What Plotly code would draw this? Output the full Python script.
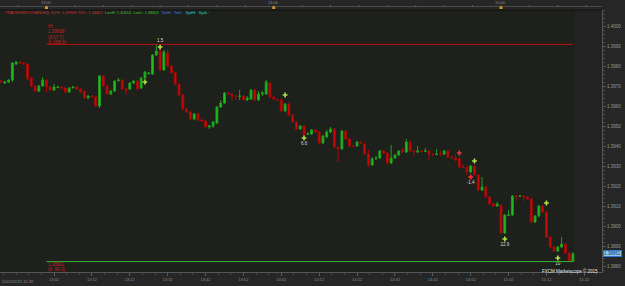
import plotly.graph_objects as go
import pandas as pd

# ---------------- data (EUR/USD-style 1-minute candles, 20/02/2015) ----------------
times = pd.date_range("2015-02-20 12:48", periods=152, freq="min")

opens = [
    1.39725, 1.39715, 1.3972, 1.3973, 1.3981, 1.3982, 1.39815, 1.3981, 1.3974, 1.3970,
    1.39675, 1.3970, 1.3973, 1.39695, 1.3968, 1.39693, 1.39695, 1.3969, 1.3967, 1.3969,
    1.39695, 1.39685, 1.39675, 1.3964, 1.3965, 1.39645, 1.3960, 1.3975, 1.3970, 1.3966,
    1.39675, 1.39727, 1.3973, 1.39685, 1.39685, 1.39715, 1.39725, 1.3969, 1.3974, 1.3976,
    1.3976, 1.39855, 1.39875, 1.3978, 1.39865, 1.3980, 1.39765, 1.3971, 1.39655, 1.39585,
    1.3957, 1.39535, 1.3956, 1.3953, 1.39525, 1.39495, 1.3950, 1.39515, 1.39595, 1.39615,
    1.39665, 1.3966, 1.3965, 1.39648, 1.3965, 1.3963, 1.39635, 1.3968, 1.3963, 1.3966,
    1.3966, 1.39715, 1.39645, 1.39633, 1.3963, 1.39575, 1.3961, 1.39555, 1.3952, 1.39485,
    1.3950, 1.39458, 1.3946, 1.3948, 1.3947, 1.39415, 1.39445, 1.3947, 1.39485, 1.39395,
    1.39385, 1.39475, 1.39435, 1.3940, 1.3940, 1.3942, 1.3941, 1.3936, 1.39305, 1.39338,
    1.3934, 1.39375, 1.39365, 1.39315, 1.3934, 1.39355, 1.3938, 1.3937, 1.3942, 1.39375,
    1.3937, 1.39375, 1.39372, 1.39375, 1.3936, 1.39358, 1.3936, 1.3936, 1.39375, 1.39345,
    1.3934, 1.39335, 1.39295, 1.39295, 1.3927, 1.3930, 1.39255, 1.3918, 1.39195, 1.39145,
    1.3911, 1.3910, 1.39105, 1.38965, 1.39053, 1.39055, 1.3915, 1.39148, 1.3915, 1.39145,
    1.39135, 1.3902, 1.3905, 1.3910, 1.3907, 1.38945, 1.38895, 1.38875, 1.38895, 1.3891,
    1.38865, 1.38825,
]
highs = [
    1.3973, 1.39725, 1.39735, 1.3982, 1.39825, 1.39825, 1.3982, 1.39815, 1.39745, 1.39705,
    1.39705, 1.39745, 1.39735, 1.3970, 1.3971, 1.3970, 1.3970, 1.39695, 1.39695, 1.3970,
    1.3970, 1.3969, 1.3968, 1.39655, 1.39655, 1.3965, 1.39755, 1.39755, 1.39705, 1.3968,
    1.3973, 1.3974, 1.39735, 1.3969, 1.3972, 1.3973, 1.3973, 1.39745, 1.39775, 1.3977,
    1.3986, 1.39908, 1.39908, 1.3988, 1.39885, 1.39805, 1.3977, 1.39715, 1.3966, 1.3959,
    1.39575, 1.39565, 1.39565, 1.3954, 1.3953, 1.39505, 1.39525, 1.3960, 1.3963, 1.3967,
    1.3967, 1.39665, 1.39655, 1.3968, 1.39655, 1.3965, 1.39685, 1.39685, 1.39675, 1.39675,
    1.3973, 1.3972, 1.3965, 1.39635, 1.39635, 1.39615, 1.39615, 1.3956, 1.39525, 1.39505,
    1.39505, 1.3947, 1.39485, 1.39485, 1.39475, 1.39455, 1.3948, 1.39495, 1.3949, 1.3940,
    1.3948, 1.3948, 1.3944, 1.39405, 1.39425, 1.39425, 1.39415, 1.3938, 1.39345, 1.3935,
    1.3938, 1.3938, 1.3937, 1.39405, 1.3936, 1.3938, 1.3939, 1.39435, 1.39425, 1.3938,
    1.3940, 1.3938, 1.3939, 1.3938, 1.39365, 1.39385, 1.39375, 1.3938, 1.3938, 1.3935,
    1.3936, 1.39345, 1.3931, 1.3930, 1.39305, 1.39305, 1.3926, 1.39245, 1.3920, 1.3915,
    1.39115, 1.3912, 1.3911, 1.3906, 1.3908, 1.39155, 1.39155, 1.39155, 1.39155, 1.3915,
    1.3914, 1.39055, 1.39105, 1.39105, 1.39075, 1.3895, 1.3890, 1.3890, 1.38945, 1.38915,
    1.3887, 1.3887,
]
lows = [
    1.39715, 1.3971, 1.39715, 1.3972, 1.39805, 1.3981, 1.39805, 1.3973, 1.39695, 1.3967,
    1.3967, 1.39695, 1.3967, 1.39675, 1.39675, 1.3969, 1.39685, 1.39665, 1.39665, 1.3969,
    1.3968, 1.39665, 1.39635, 1.39635, 1.39643, 1.39595, 1.3959, 1.39695, 1.39655, 1.39655,
    1.3967, 1.39722, 1.3968, 1.39655, 1.3968, 1.3971, 1.3968, 1.39685, 1.39735, 1.3976,
    1.39755, 1.3985, 1.39775, 1.39775, 1.39795, 1.3976, 1.39705, 1.3965, 1.3958, 1.39565,
    1.3953, 1.3953, 1.39525, 1.3952, 1.3949, 1.39485, 1.3949, 1.3951, 1.3959, 1.3961,
    1.39655, 1.3963, 1.3963, 1.3963, 1.39625, 1.39625, 1.3963, 1.39625, 1.39625, 1.3965,
    1.39655, 1.3964, 1.3963, 1.39625, 1.3957, 1.3957, 1.3955, 1.39515, 1.3948, 1.3948,
    1.3945, 1.39455, 1.39455, 1.39465, 1.3941, 1.3941, 1.3944, 1.39465, 1.3939, 1.3932,
    1.3938, 1.3943, 1.39395, 1.39395, 1.39395, 1.3941, 1.39355, 1.39295, 1.3930, 1.3933,
    1.39335, 1.3936, 1.3931, 1.3931, 1.39335, 1.3935, 1.39365, 1.39365, 1.3937, 1.3935,
    1.39365, 1.3937, 1.3937, 1.3933, 1.3935, 1.39355, 1.3935, 1.39355, 1.3934, 1.3933,
    1.39325, 1.3929, 1.3929, 1.39255, 1.39265, 1.3925, 1.39175, 1.39175, 1.3914, 1.39105,
    1.39095, 1.39095, 1.3896, 1.3896, 1.3905, 1.3905, 1.39125, 1.39145, 1.39125, 1.3913,
    1.39015, 1.39015, 1.39045, 1.39065, 1.3894, 1.3889, 1.3887, 1.3887, 1.3889, 1.3886,
    1.38822, 1.38822,
]
closes = [
    1.3972, 1.3972, 1.3973, 1.39815, 1.3982, 1.39815, 1.3981, 1.39735, 1.3970, 1.39675,
    1.3970, 1.3973, 1.39695, 1.3968, 1.39695, 1.39695, 1.3969, 1.3967, 1.3969, 1.39695,
    1.39685, 1.3967, 1.3964, 1.3965, 1.39645, 1.3960, 1.3975, 1.3970, 1.3966, 1.39675,
    1.39725, 1.3973, 1.39685, 1.3968, 1.39715, 1.39725, 1.39685, 1.3974, 1.3977, 1.39765,
    1.39855, 1.39875, 1.3978, 1.3987, 1.3980, 1.39765, 1.3971, 1.39655, 1.39585, 1.3957,
    1.39535, 1.3956, 1.3953, 1.39525, 1.39495, 1.3950, 1.3952, 1.39595, 1.39615, 1.39665,
    1.3966, 1.3965, 1.39648, 1.3965, 1.3963, 1.3964, 1.3968, 1.3963, 1.3966, 1.39665,
    1.3972, 1.39645, 1.39635, 1.3963, 1.39575, 1.3961, 1.39555, 1.3952, 1.39485, 1.3950,
    1.39455, 1.3946, 1.3948, 1.3947, 1.39415, 1.3945, 1.3947, 1.39485, 1.39395, 1.39385,
    1.39475, 1.39435, 1.3940, 1.39398, 1.3942, 1.39415, 1.3936, 1.39305, 1.39335, 1.3934,
    1.39375, 1.39365, 1.39315, 1.3934, 1.39355, 1.39375, 1.3937, 1.3942, 1.39375, 1.39372,
    1.39375, 1.39372, 1.39375, 1.3936, 1.39358, 1.3936, 1.39358, 1.39375, 1.39345, 1.39343,
    1.3933, 1.39295, 1.39293, 1.3927, 1.3930, 1.39255, 1.3918, 1.39195, 1.39145, 1.3911,
    1.3910, 1.3911, 1.38965, 1.39055, 1.39055, 1.3915, 1.39148, 1.3915, 1.39145, 1.39135,
    1.3902, 1.3905, 1.3910, 1.3907, 1.38945, 1.38895, 1.38875, 1.38895, 1.3891, 1.38865,
    1.38825, 1.38861,
]

day_high = 1.39908
day_low = 1.38822
last_price = 1.38861

# signal markers: candle index, price, colour kind, label
sig_idx = [38, 42, 75, 80, 121, 125, 124, 144, 133, 147]
sig_price = [1.3972, 1.39895, 1.39655, 1.3944, 1.39365, 1.39325, 1.39245, 1.39115, 1.38935, 1.3884]
sig_kind = ["up", "up", "up", "up", "dn", "up", "dn", "up", "up", "up"]
sig_label = ["", "1.5", "", "6.6", "", "", "-1.4", "", "22.9", "10"]
sig_labelpos = ["bottom center", "top center", "bottom center", "bottom center", "bottom center",
                "bottom center", "bottom center", "bottom center", "bottom center", "bottom center"]

y_ticks = [1.3880, 1.3890, 1.3900, 1.3910, 1.3920, 1.3930, 1.3940, 1.3950, 1.3960, 1.3970,
           1.3980, 1.3990, 1.4000]
x_tick_times = pd.date_range("2015-02-20 13:02", "2015-02-20 15:22", freq="10min")
x_tick_text = [t.strftime("%H:%M") for t in x_tick_times]
hour_marks = pd.to_datetime(["2015-02-20 13:00", "2015-02-20 14:00", "2015-02-20 15:00"])
hour_text = ["13:00", "14:00", "15:00"]

# ---------------- layout geometry ----------------
W, H = 625, 286
ML, MR, MT, MB = 0, 23, 10, 14
PW, PH = W - ML - MR, H - MT - MB

def py(px):
    return (H - MB - px) / PH

def pxx(px):
    return (px - ML) / PW

t0 = times[0]
x_start = t0 - pd.Timedelta(seconds=16)
x_end = t0 + pd.Timedelta(seconds=9520)

FONT = "Liberation Sans"
GREEN_SIG = "#aede48"
RED_SIG = "#f23434"

fig = go.Figure()

fig.add_trace(go.Candlestick(
    x=times, open=opens, high=highs, low=lows, close=closes,
    increasing=dict(line=dict(color="#1c9f1c", width=1), fillcolor="#22c422"),
    decreasing=dict(line=dict(color="#a60909", width=1), fillcolor="#cc0b0b"),
    whiskerwidth=0, showlegend=False, hoverinfo="skip",
))

fig.add_trace(go.Scatter(
    x=[times[i] for i in sig_idx], y=sig_price,
    mode="markers+text",
    marker=dict(symbol="cross", size=4,
                color=[GREEN_SIG if k == "up" else RED_SIG for k in sig_kind],
                line=dict(width=0)),
    text=sig_label, textposition=sig_labelpos,
    textfont=dict(family=FONT, size=4.5, color="#d8d8d8"),
    showlegend=False, hoverinfo="skip",
))

shapes = []
# right empty region
shapes.append(dict(type="rect", xref="x", yref="paper",
                   x0=times[-1] + pd.Timedelta(seconds=30), x1=x_end, y0=0, y1=1,
                   fillcolor="#232323", line=dict(width=0), layer="below"))
# high / low lines
shapes.append(dict(type="line", xref="x", yref="y", x0=times[12], x1=times[-1],
                   y0=day_high, y1=day_high, line=dict(color="#b81010", width=1)))
shapes.append(dict(type="line", xref="x", yref="y", x0=times[12], x1=times[-1],
                   y0=day_low, y1=day_low, line=dict(color="#32b432", width=1)))
# plot top border
shapes.append(dict(type="line", xref="paper", yref="paper", x0=0, x1=1, y0=1, y1=1,
                   line=dict(color="#111111", width=1)))
# header line and ticks
shapes.append(dict(type="line", xref="paper", yref="paper", x0=0, x1=1,
                   y0=py(6.5), y1=py(6.5), line=dict(color="#4a4a4a", width=1)))
for t in pd.date_range("2015-02-20 12:45", "2015-02-20 15:30", freq="450s"):
    if x_start <= t <= x_end:
        shapes.append(dict(type="line", xref="x", yref="paper", x0=t, x1=t,
                           y0=py(5), y1=py(7), line=dict(color="#5a5a5a", width=1)))
for t in hour_marks:
    shapes.append(dict(type="rect", xref="x", yref="paper",
                       x0=t - pd.Timedelta(seconds=24), x1=t + pd.Timedelta(seconds=24),
                       y0=py(9), y1=py(6.5), fillcolor="#d89a1c", line=dict(width=0)))

annotations = []
for t, s in zip(hour_marks, hour_text):
    annotations.append(dict(x=t, y=py(3), xref="x", yref="paper", text=s, showarrow=False,
                            font=dict(family=FONT, size=4, color="#8c8c8c"),
                            xanchor="center", yanchor="middle"))

header = ('<span style="color:#c83030">TRADERSEXCHANGE[]  NYH: 1.39908  NYL: 1.38822</span>'
          '<span style="color:#33c033">  LonH: 1.40414  LonL: 1.38822</span>'
          '<span style="color:#3a78e8">  TokH:  TokL:</span>'
          '<span style="color:#30c8c8">  SydH:  SydL:</span>')
annotations.append(dict(x=pxx(3), y=py(13), xref="paper", yref="paper", text=header,
                        showarrow=False, font=dict(family=FONT, size=4),
                        xanchor="left", yanchor="middle"))

hi_lines = ["HI", "1.39908", "(0:17.7)", "(L:188.8)"]
for k, s in enumerate(hi_lines):
    annotations.append(dict(x=times[12], y=py(26.5 + 5.3 * k), xref="x", yref="paper", text=s,
                            showarrow=False, font=dict(family=FONT, size=4.5, color="#cc2222"),
                            xanchor="left", yanchor="middle", xshift=-0.5))
lo_lines = ["1.38822", "(0 -90.3)"]
for k, s in enumerate(lo_lines):
    annotations.append(dict(x=times[12], y=py(264.5 + 5 * k), xref="x", yref="paper", text=s,
                            showarrow=False, font=dict(family=FONT, size=4.5, color="#cc2222"),
                            xanchor="left", yanchor="middle", xshift=-0.5))

annotations.append(dict(x=pxx(600), y=py(270.5), xref="paper", yref="paper",
                        text="FXCM Marketscope © 2015", showarrow=False,
                        font=dict(family=FONT, size=4.5, color="#e8e8e8"),
                        xanchor="right", yanchor="middle"))

annotations.append(dict(x=1, y=last_price, xref="paper", yref="y", text=str(last_price),
                        showarrow=False, xanchor="left", yanchor="middle", xshift=1,
                        font=dict(family=FONT, size=4.5, color="#0c2c70"),
                        bgcolor="#8ccaf4", bordercolor="#2a78d0", borderwidth=1, borderpad=0))

annotations.append(dict(x=0, y=py(281), xref="paper", yref="paper", text="20/02/2015 12:49",
                        showarrow=False, xanchor="left", yanchor="middle",
                        font=dict(family=FONT, size=4, color="#8c8c8c")))

fig.update_layout(
    width=W, height=H,
    margin=dict(l=ML, r=MR, t=MT, b=MB),
    paper_bgcolor="#262626", plot_bgcolor="#1e201c",
    shapes=shapes, annotations=annotations,
    showlegend=False,
    xaxis=dict(
        type="date", range=[x_start, x_end], rangeslider=dict(visible=False),
        tickvals=x_tick_times, ticktext=x_tick_text,
        tickfont=dict(family=FONT, size=4, color="#8c8c8c"),
        ticks="outside", ticklen=3, tickcolor="#5a5a5a",
        minor=dict(ticks="outside", ticklen=2, tickcolor="#4a4a4a", dtick=200000,
                   tick0="2015-02-20 13:02"),
        showgrid=False, zeroline=False, showline=True, linecolor="#555555", linewidth=1,
    ),
    yaxis=dict(
        range=[1.3877, 1.4008], side="right",
        tickvals=y_ticks, ticktext=[f"{v:.4f}" for v in y_ticks],
        tickfont=dict(family=FONT, size=4.5, color="#9a9a9a"),
        ticks="outside", ticklen=3, tickcolor="#5a5a5a",
        minor=dict(ticks="outside", ticklen=2, tickcolor="#4a4a4a", dtick=0.0002,
                   tick0=1.3880),
        showgrid=False, zeroline=False, showline=True, linecolor="#555555", linewidth=1,
    ),
)

fig.write_html("out.html")
